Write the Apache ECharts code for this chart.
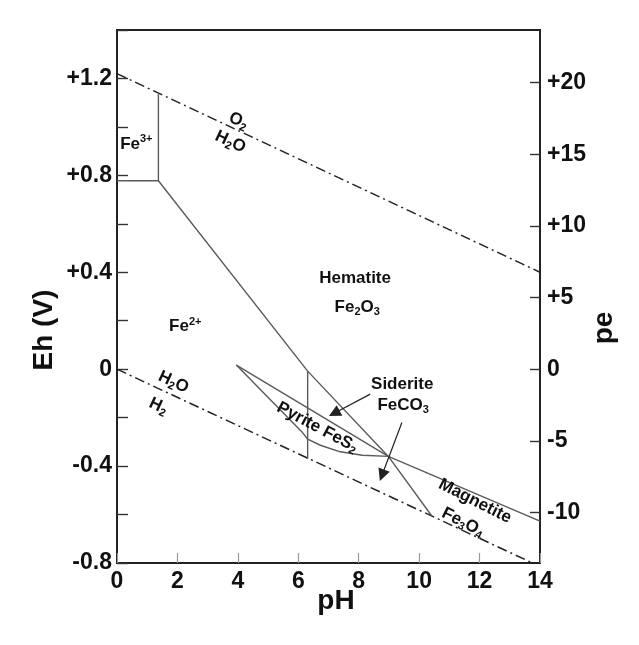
<!DOCTYPE html>
<html>
<head>
<meta charset="utf-8">
<script src="https://cdn.jsdelivr.net/npm/echarts@6/dist/echarts.min.js"></script>
<style>html,body{margin:0;padding:0;background:#fff;}#c{width:639px;height:645px;}</style>
</head>
<body>
<div id="c"></div>
<script>
// ---- data (pH, Eh in volts) ----
const o2Line = [[0, 1.22], [14, 0.40]];
const h2Line = [[0, 0], [13.75, -0.8]];
const fe3Boundary = [[0, 0.778], [1.37, 0.778], [1.37, 1.135]];
const fe2HematiteLine = [[1.37, 0.778], [6.31, -0.008], [8.98, -0.360], [10.42, -0.606]];
const hematiteMagnetiteLine = [[8.98, -0.360], [14, -0.627]];
const pyriteUpper = [[3.95, 0.017], [8.98, -0.360]];
const pyriteLower = [[3.95, 0.017], [6.13, -0.260], [6.31, -0.289], [6.73, -0.314], [7.39, -0.341], [8.12, -0.355], [8.98, -0.360]];
const sideriteBoundary = [[6.31, -0.008], [6.31, -0.37]];
const arrows = [
  [[8.38, -0.103], [7.19, -0.182]],
  [[9.43, -0.220], [8.77, -0.438]]
];
const xTicks = [0, 2, 4, 6, 8, 10, 12, 14];
const peTicks = [-10, -5, 0, 5, 10, 15, 20];
const ehLabelStep = 0.4;
const nernst = 0.05916;
// annotations: text, pH, Eh, rotation
const annotations = [
  ['{n|Fe}{sup|3+}', 0.64, 0.93, 0],
  ['{n|O}{sub|2}', 4.02, 1.025, -25],
  ['{n|H}{sub|2}{n|O}', 3.75, 0.938, -25],
  ['{n|Hematite}', 7.88, 0.376, 0],
  ['{n|Fe}{sub|2}{n|O}{sub|3}', 7.95, 0.256, 0],
  ['{n|Fe}{sup|2+}', 2.26, 0.178, 0],
  ['{n|H}{sub|2}{n|O}', 1.87, -0.054, -25],
  ['{n|H}{sub|2}', 1.37, -0.153, -25],
  ['{n|Pyrite FeS}{sub|2}', 6.63, -0.240, -28],
  ['{n|Siderite}', 9.44, -0.062, 0],
  ['{n|FeCO}{sub|3}', 9.47, -0.149, 0],
  ['{n|Magnetite}', 11.85, -0.545, -27],
  ['{n|Fe}{sub|3}{n|O}{sub|4}', 11.45, -0.632, -27]
];

const FONT = "'Liberation Sans', Arial, Helvetica, sans-serif";
const lineGray = '#5a5a5a';
const chart = echarts.init(document.getElementById('c'), null, {renderer: 'canvas'});

function lineSeries(data, color, width, type) {
  return {
    type: 'line', data: data, showSymbol: false, symbol: 'none', silent: true,
    xAxisIndex: 0, yAxisIndex: 0, animation: false, z: 3,
    lineStyle: {color: color, width: width, type: type || 'solid'}
  };
}

const tokenBase = {fontFamily: FONT, fontWeight: 'bold', color: '#111', textBorderWidth: 0, textBorderColor: 'transparent'};
const richStyles = {
  n: Object.assign({}, tokenBase, {fontSize: 17, lineHeight: 20}),
  sub: Object.assign({}, tokenBase, {fontSize: 11, verticalAlign: 'bottom', lineHeight: 11}),
  sup: Object.assign({}, tokenBase, {fontSize: 11, verticalAlign: 'top', lineHeight: 11})
};

const option = {
  animation: false,
  backgroundColor: '#fff',
  grid: {left: 117, right: 99, top: 30, bottom: 82, show: true, borderColor: '#222', borderWidth: 2, containLabel: false},
  xAxis: {
    type: 'value', min: 0, max: 14, interval: 2,
    axisLine: {show: true, onZero: false, lineStyle: {color: '#222', width: 2}},
    axisTick: {show: true, inside: true, length: 10, lineStyle: {color: '#999', width: 1.2}},
    axisLabel: {show: true, margin: 7, fontFamily: FONT, fontWeight: 'bold', fontSize: 23, color: '#111',
      formatter: v => xTicks.indexOf(v) >= 0 ? String(v) : ''},
    splitLine: {show: false}
  },
  yAxis: [
    {
      type: 'value', min: -0.8, max: 1.4, interval: 0.2, position: 'left',
      axisLine: {show: true, onZero: false, lineStyle: {color: '#222', width: 2}},
      axisTick: {show: true, inside: true, length: 11, lineStyle: {color: '#333', width: 1.4}},
      axisLabel: {show: true, margin: 5, fontFamily: FONT, fontWeight: 'bold', fontSize: 23, color: '#111',
        formatter: function (v) {
          const k = Math.round(v / ehLabelStep);
          if (Math.abs(k * ehLabelStep - v) > 1e-6) return '';
          if (k === 0) return '0';
          return (v > 0 ? '+' : '') + v.toFixed(1);
        }},
      splitLine: {show: false}
    },
    {
      type: 'value', min: -0.8 / nernst, max: 1.4 / nernst, position: 'right',
      axisLine: {show: true, onZero: false, lineStyle: {color: '#222', width: 2}},
      axisTick: {show: true, inside: true, length: 10, customValues: peTicks, lineStyle: {color: '#333', width: 1.4}},
      axisLabel: {show: true, margin: 7, fontFamily: FONT, fontWeight: 'bold', fontSize: 23, color: '#111',
        customValues: peTicks,
        formatter: v => (v > 0 ? '+' : '') + v},
      splitLine: {show: false}
    }
  ],
  graphic: [
    {type: 'text', x: 44, y: 330, rotation: Math.PI / 2,
      style: {text: 'Eh (V)', font: 'bold 28px ' + FONT, fill: '#111', align: 'center', verticalAlign: 'middle', textAlign: 'center', textVerticalAlign: 'middle'}},
    {type: 'text', x: 336, y: 601,
      style: {text: 'pH', font: 'bold 28px ' + FONT, fill: '#111', align: 'center', verticalAlign: 'middle', textAlign: 'center', textVerticalAlign: 'middle'}},
    {type: 'text', x: 604, y: 328, rotation: Math.PI / 2,
      style: {text: 'pe', font: 'bold 28px ' + FONT, fill: '#111', align: 'center', verticalAlign: 'middle', textAlign: 'center', textVerticalAlign: 'middle'}}
  ],
  series: [
    lineSeries(o2Line, '#222', 1.5, [10, 4, 2, 4]),
    lineSeries(h2Line, '#222', 1.5, [10, 4, 2, 4]),
    lineSeries(fe3Boundary, lineGray, 1.4),
    lineSeries(fe2HematiteLine, lineGray, 1.4),
    lineSeries(hematiteMagnetiteLine, lineGray, 1.4),
    lineSeries(pyriteUpper, lineGray, 1.4),
    lineSeries(pyriteLower, lineGray, 1.4),
    lineSeries(sideriteBoundary, lineGray, 1.4),
    {
      type: 'lines', coordinateSystem: 'cartesian2d', xAxisIndex: 0, yAxisIndex: 0, silent: true, z: 4,
      symbol: ['none', 'triangle'], symbolSize: 12,
      lineStyle: {color: '#222', width: 1.2, opacity: 1},
      data: arrows.map(a => ({coords: a}))
    },
    {
      type: 'scatter', xAxisIndex: 0, yAxisIndex: 0, symbolSize: 0, silent: true, z: 5,
      itemStyle: {color: '#111', opacity: 1},
      data: annotations.map(a => ({
        value: [a[1], a[2]],
        label: {show: true, position: 'inside', formatter: a[0], rotate: a[3], color: '#111', opacity: 1, textBorderWidth: 0, rich: richStyles}
      })),
      label: {show: true, position: 'inside', color: '#111', opacity: 1, textBorderWidth: 0, rich: richStyles}
    }
  ]
};
chart.setOption(option);
</script>
</body>
</html>
